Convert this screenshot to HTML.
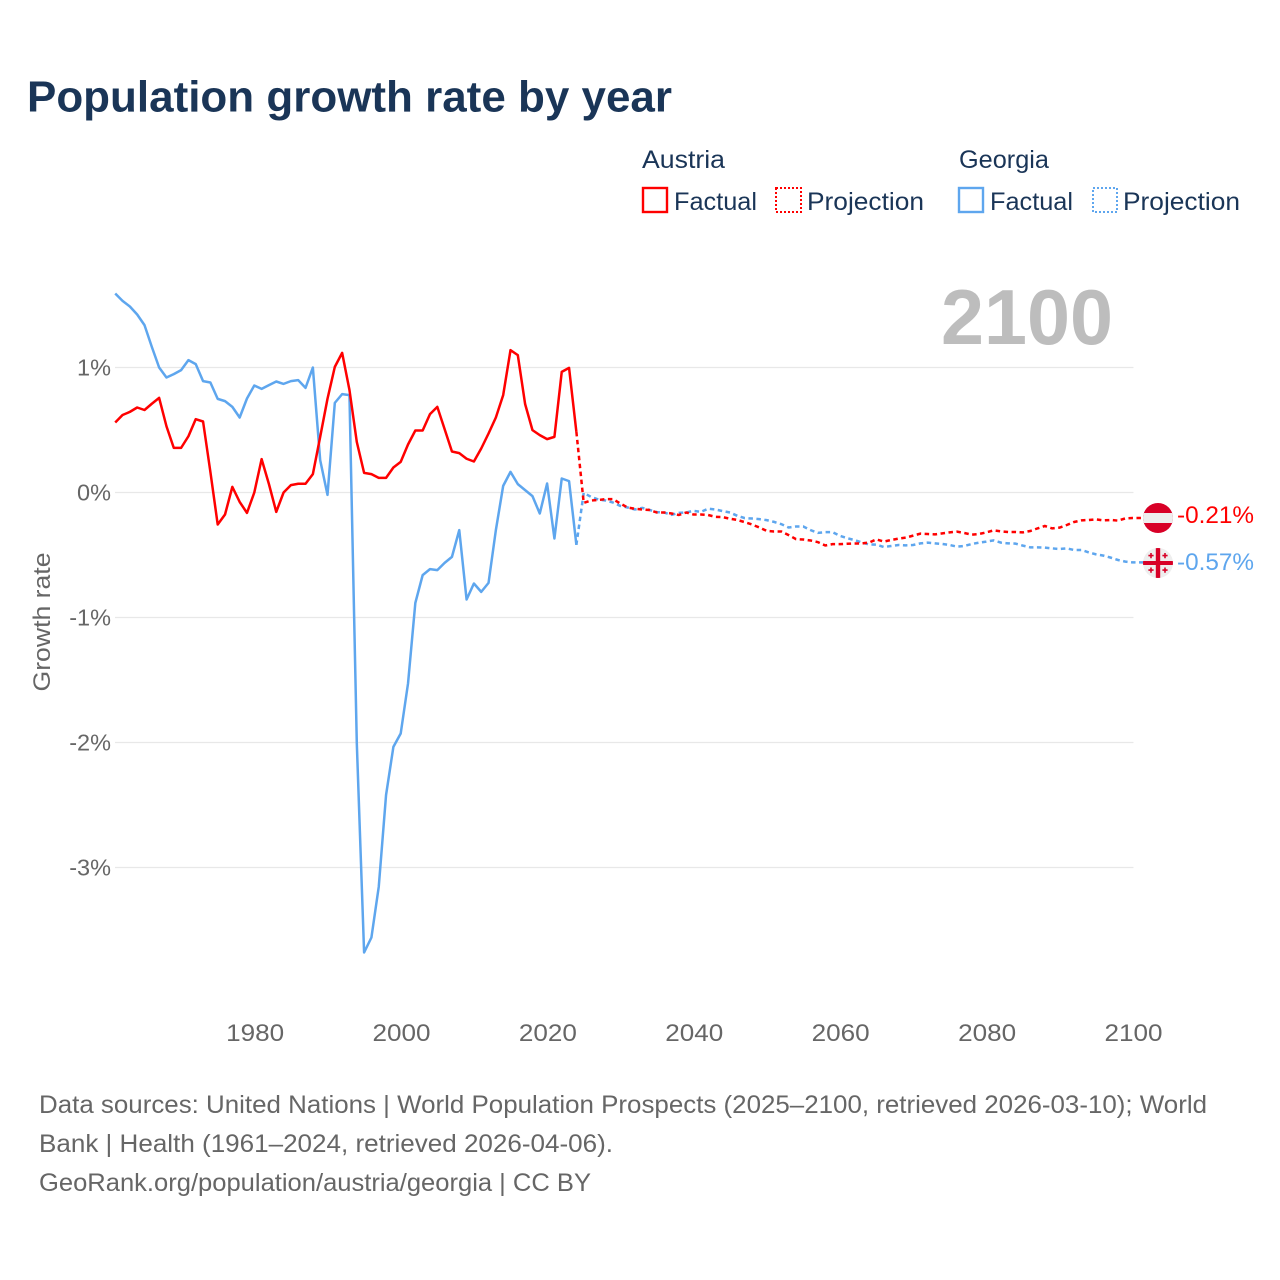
<!DOCTYPE html>
<html lang="en">
<head>
<meta charset="utf-8">
<title>Population growth rate by year</title>
<style>
html,body{margin:0;padding:0;background:#fff;width:1280px;height:1280px;overflow:hidden}
svg{display:block}
text{font-family:"Liberation Sans",sans-serif}
</style>
</head>
<body>
<svg id="chart" xmlns="http://www.w3.org/2000/svg" width="1280" height="1280" viewBox="0 0 1280 1280">
  <defs>
    <clipPath id="clip-at"><circle cx="1158" cy="518" r="15"/></clipPath>
    <clipPath id="clip-ge"><circle cx="1158" cy="563" r="15"/></clipPath>
  </defs>
  <rect x="0" y="0" width="1280" height="1280" fill="#ffffff"/>
  <text x="27" y="111.500" font-size="44" font-weight="700" fill="#1a3557" textLength="645" lengthAdjust="spacingAndGlyphs">Population growth rate by year</text>

  <g>
    <text x="642" y="168" font-size="25" fill="#1a3557" textLength="83" lengthAdjust="spacingAndGlyphs">Austria</text>
    <rect x="643" y="188" width="24" height="24" fill="none" stroke="#ff0000" stroke-width="2.400"/>
    <text x="674" y="210" font-size="25" fill="#1a3557" textLength="83" lengthAdjust="spacingAndGlyphs">Factual</text>
    <rect x="776" y="188" width="25" height="24" fill="none" stroke="#ff0000" stroke-width="2" stroke-dasharray="2 2"/>
    <text x="807" y="210" font-size="25" fill="#1a3557" textLength="117" lengthAdjust="spacingAndGlyphs">Projection</text>
    <text x="959" y="168" font-size="25" fill="#1a3557" textLength="90" lengthAdjust="spacingAndGlyphs">Georgia</text>
    <rect x="959" y="188" width="24" height="24" fill="none" stroke="#5ea6ee" stroke-width="2.400"/>
    <text x="990" y="210" font-size="25" fill="#1a3557" textLength="83" lengthAdjust="spacingAndGlyphs">Factual</text>
    <rect x="1093" y="188" width="24" height="24" fill="none" stroke="#5ea6ee" stroke-width="2" stroke-dasharray="2 2"/>
    <text x="1123" y="210" font-size="25" fill="#1a3557" textLength="117" lengthAdjust="spacingAndGlyphs">Projection</text>
  </g>

  <g id="grid"></g>
  <g id="y-ticks"></g>
  <g id="x-ticks"></g>
  <text transform="translate(50,622) rotate(-90)" text-anchor="middle" font-size="24" fill="#666666" textLength="139" lengthAdjust="spacingAndGlyphs">Growth rate</text>
  <text x="941" y="344" font-size="78" font-weight="700" fill="#bdbdbd" textLength="172" lengthAdjust="spacingAndGlyphs">2100</text>
  <g id="series"></g>

  <g clip-path="url(#clip-at)">
    <rect x="1143" y="503" width="30" height="30" fill="#d80027"/>
    <rect x="1143" y="513" width="30" height="10" fill="#eeeeee"/>
  </g>
  <g clip-path="url(#clip-ge)">
    <rect x="1143" y="548" width="30" height="30" fill="#eeeeee"/>
    <rect x="1143" y="561" width="30" height="4" fill="#d80027"/>
    <rect x="1155.800" y="548" width="4.400" height="30" fill="#d80027"/>
    <path d="M1150.200 553h1.600v1.800h1.800v1.600h-1.800v1.800h-1.600v-1.800h-1.800v-1.600h1.800zM1164.200 553h1.600v1.800h1.800v1.600h-1.800v1.800h-1.600v-1.800h-1.800v-1.600h1.800zM1150.200 567.500h1.600v1.800h1.800v1.600h-1.800v1.800h-1.600v-1.800h-1.800v-1.600h1.800zM1164.200 567.500h1.600v1.800h1.800v1.600h-1.800v1.800h-1.600v-1.800h-1.800v-1.600h1.800z" fill="#d80027"/>
  </g>
  <g id="end-labels"></g>

  <g font-size="25" fill="#666666">
    <text x="39" y="1113" textLength="1168" lengthAdjust="spacingAndGlyphs">Data sources: United Nations | World Population Prospects (2025–2100, retrieved 2026-03-10); World</text>
    <text x="39" y="1152" textLength="574" lengthAdjust="spacingAndGlyphs">Bank | Health (1961–2024, retrieved 2026-04-06).</text>
    <text x="39" y="1191" textLength="552" lengthAdjust="spacingAndGlyphs">GeoRank.org/population/austria/georgia | CC BY</text>
  </g>
</svg>

<script>
const xTickYears = [1980, 2000, 2020, 2040, 2060, 2080, 2100];
const yTickValues = [1, 0, -1, -2, -3];
const factualStartYear = 1961;
const projectionStartYear = 2025;
const austriaFactual = [0.56,0.62,0.645,0.68,0.66,0.71,0.757,0.53,0.357,0.357,0.45,0.587,0.568,0.165,-0.256,-0.176,0.045,-0.075,-0.163,0,0.267,0.067,-0.155,0,0.059,0.07,0.07,0.147,0.445,0.75,1.005,1.117,0.82,0.405,0.157,0.147,0.117,0.117,0.2,0.245,0.384,0.496,0.496,0.627,0.685,0.507,0.328,0.315,0.27,0.248,0.352,0.472,0.6,0.779,1.139,1.099,0.707,0.499,0.459,0.427,0.445,0.965,0.997,0.485];
const georgiaFactual = [1.592,1.533,1.488,1.424,1.339,1.165,1.0,0.92,0.947,0.979,1.059,1.027,0.891,0.88,0.749,0.731,0.685,0.6,0.752,0.856,0.829,0.859,0.888,0.869,0.891,0.899,0.837,1.0,0.259,-0.019,0.717,0.787,0.779,-2.0,-3.68,-3.56,-3.155,-2.42,-2.035,-1.928,-1.528,-0.883,-0.661,-0.613,-0.621,-0.563,-0.515,-0.301,-0.856,-0.728,-0.795,-0.723,-0.301,0.053,0.165,0.067,0.019,-0.029,-0.168,0.072,-0.368,0.112,0.091,-0.419];
const austriaProjection = [-0.083,-0.064,-0.06,-0.053,-0.053,-0.088,-0.12,-0.13,-0.136,-0.14,-0.16,-0.16,-0.168,-0.18,-0.16,-0.176,-0.176,-0.18,-0.195,-0.197,-0.21,-0.22,-0.237,-0.256,-0.28,-0.307,-0.312,-0.312,-0.341,-0.373,-0.376,-0.384,-0.397,-0.424,-0.413,-0.413,-0.41,-0.408,-0.408,-0.4,-0.375,-0.393,-0.38,-0.369,-0.361,-0.345,-0.329,-0.332,-0.335,-0.327,-0.319,-0.313,-0.324,-0.337,-0.332,-0.319,-0.303,-0.311,-0.316,-0.316,-0.319,-0.308,-0.287,-0.268,-0.287,-0.281,-0.26,-0.236,-0.223,-0.22,-0.215,-0.223,-0.22,-0.225,-0.207,-0.204];
const georgiaProjection = [-0.003,-0.035,-0.056,-0.064,-0.08,-0.107,-0.12,-0.136,-0.123,-0.14,-0.157,-0.16,-0.179,-0.163,-0.16,-0.147,-0.155,-0.13,-0.136,-0.149,-0.16,-0.187,-0.205,-0.208,-0.213,-0.221,-0.235,-0.253,-0.28,-0.272,-0.272,-0.301,-0.323,-0.317,-0.317,-0.347,-0.365,-0.381,-0.4,-0.416,-0.417,-0.436,-0.428,-0.42,-0.423,-0.42,-0.407,-0.401,-0.407,-0.412,-0.42,-0.433,-0.428,-0.412,-0.401,-0.393,-0.383,-0.401,-0.407,-0.409,-0.425,-0.439,-0.439,-0.441,-0.447,-0.452,-0.447,-0.46,-0.46,-0.479,-0.495,-0.505,-0.521,-0.54,-0.553,-0.559];
const endValues = [-0.21, -0.57];

const NS = 'http://www.w3.org/2000/svg';
const xOf = function (year) { return 1132.7 - (2100 - year) * 7.32; };
const tickX = function (year) { return 1133.5 - (2100 - year) * 7.32; };
const yOf = function (value) { return 492.5 - value * 125; };

function make(tag, attrs, parent, text) {
  const el = document.createElementNS(NS, tag);
  Object.keys(attrs).forEach(function (k) { el.setAttribute(k, attrs[k]); });
  if (text !== undefined) el.textContent = text;
  parent.appendChild(el);
  return el;
}

const gridGroup = document.getElementById('grid');
const yTickGroup = document.getElementById('y-ticks');
const xTickGroup = document.getElementById('x-ticks');
const seriesGroup = document.getElementById('series');
const endGroup = document.getElementById('end-labels');

yTickValues.forEach(function (v) {
  const line = make('line', {x1: 115, x2: 1133.5, y1: yOf(v), y2: yOf(v), stroke: '#e8e8e8', 'stroke-width': 1.2}, gridGroup);
  
  
  const label = make('text', {x: 111, y: yOf(v) + 8, 'text-anchor': 'end', 'font-size': 23.5, fill: '#666666'}, yTickGroup, v + '%');
  
  
});

xTickYears.forEach(function (year) {
  const label = make('text', {x: tickX(year), y: 1041, 'text-anchor': 'middle', 'font-size': 24, fill: '#666666', textLength: 58, lengthAdjust: 'spacingAndGlyphs'}, xTickGroup, String(year));
  
  
});

function pathFrom(startYear, values, prefix, toFlag) {
  const pts = prefix.concat(values.map(function (v, i) { return [xOf(startYear + i), yOf(v)]; }));
  if (toFlag) pts.push([1150, yOf(values[values.length - 1])]);
  return pts.map(function (p, i) { return (i ? 'L' : 'M') + p[0].toFixed(2) + ' ' + p[1].toFixed(2); }).join('');
}

function lastPoint(startYear, values) {
  const i = values.length - 1;
  return [[xOf(startYear + i), yOf(values[i])]];
}

const georgiaLine = make('path', {d: pathFrom(factualStartYear, georgiaFactual, [], false), fill: 'none', stroke: '#5ea6ee', 'stroke-width': 2.5, 'stroke-linejoin': 'round'}, seriesGroup);



const georgiaDash = make('path', {d: pathFrom(projectionStartYear, georgiaProjection, lastPoint(factualStartYear, georgiaFactual), true), fill: 'none', stroke: '#5ea6ee', 'stroke-width': 2.5, 'stroke-dasharray': '4.5 3.5'}, seriesGroup);



const austriaLine = make('path', {d: pathFrom(factualStartYear, austriaFactual, [], false), fill: 'none', stroke: '#ff0000', 'stroke-width': 2.5, 'stroke-linejoin': 'round'}, seriesGroup);



const austriaDash = make('path', {d: pathFrom(projectionStartYear, austriaProjection, lastPoint(factualStartYear, austriaFactual), true), fill: 'none', stroke: '#ff0000', 'stroke-width': 2.5, 'stroke-dasharray': '4.5 3.5'}, seriesGroup);



const austriaEnd = make('text', {x: 1177, y: 523, 'font-size': 24, fill: '#ff0000', textLength: 77, lengthAdjust: 'spacingAndGlyphs'}, endGroup, endValues[0].toFixed(2) + '%');



const georgiaEnd = make('text', {x: 1177, y: 570, 'font-size': 24, fill: '#5ea6ee', textLength: 77, lengthAdjust: 'spacingAndGlyphs'}, endGroup, endValues[1].toFixed(2) + '%');


</script>
</body>
</html>
